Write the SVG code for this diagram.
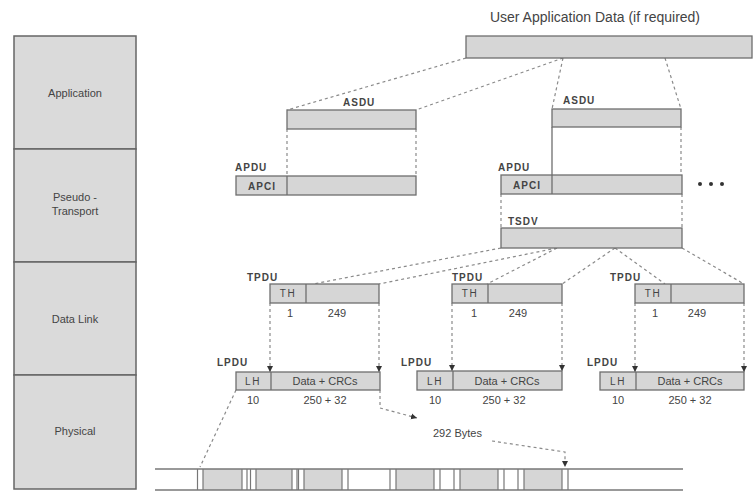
<svg xmlns="http://www.w3.org/2000/svg" width="753" height="491" viewBox="0 0 753 491">
<defs>
<style>
.box{fill:#d6d6d6;stroke:#6e6e6e;stroke-width:1.3}
.layer{fill:#dadada;stroke:#666;stroke-width:1.5}
.div{stroke:#6e6e6e;stroke-width:1.3}
.dash{fill:none;stroke:#8a8a8a;stroke-width:1.2;stroke-dasharray:3 3}
.solid{fill:none;stroke:#6e6e6e;stroke-width:1.3}
.t{font-family:"Liberation Sans",Arial,sans-serif;fill:#444}
.lay{font-size:11px;text-anchor:middle}
.lbl{font-size:10px;font-weight:bold;letter-spacing:1px}
.cell{font-size:10px;font-weight:bold;letter-spacing:1px;text-anchor:middle}
.lh{font-size:10px;letter-spacing:1.5px;text-anchor:middle}
.num{font-size:11px;text-anchor:middle}
.ln{stroke:#777;stroke-width:1.2}
.seg{fill:#d6d6d6}
</style>
<marker id="ar" markerUnits="userSpaceOnUse" markerWidth="8" markerHeight="8" refX="6" refY="4" orient="auto" viewBox="0 0 8 8">
<path d="M0,1 L6,4 L0,7 Z" fill="#333"/>
</marker>
</defs>
<rect width="753" height="491" fill="#ffffff"/>

<g id="layers">
<rect class="layer" x="14" y="36" width="122" height="113"/>
<rect class="layer" x="14" y="149" width="122" height="113"/>
<rect class="layer" x="14" y="262" width="122" height="113"/>
<rect class="layer" x="14" y="375" width="122" height="114"/>
<text class="t lay" x="75" y="97">Application</text>
<text class="t lay" x="75" y="201">Pseudo -</text>
<text class="t lay" x="75" y="215">Transport</text>
<text class="t lay" x="75" y="323">Data Link</text>
<text class="t lay" x="75" y="435">Physical</text>
</g>

<g id="connectors">
<line class="dash" x1="466" y1="58" x2="287" y2="110"/>
<line class="dash" x1="563" y1="58" x2="416" y2="110"/>
<line class="dash" x1="563" y1="58" x2="552" y2="109"/>
<line class="dash" x1="665" y1="58" x2="681" y2="109"/>
<line class="dash" x1="287" y1="129" x2="287" y2="176"/>
<line class="dash" x1="416" y1="129" x2="416" y2="176"/>
<line class="solid" x1="552" y1="127" x2="552" y2="175"/>
<line class="dash" x1="681" y1="127" x2="681" y2="175"/>
<line class="dash" x1="501" y1="194" x2="501" y2="228"/>
<line class="dash" x1="682" y1="194" x2="682" y2="228"/>
<line class="dash" x1="501" y1="248" x2="313" y2="284"/>
<line class="dash" x1="557" y1="248" x2="379" y2="284"/>
<line class="dash" x1="557" y1="248" x2="487" y2="284"/>
<line class="dash" x1="615" y1="248" x2="562" y2="284"/>
<line class="dash" x1="615" y1="248" x2="665" y2="284"/>
<line class="dash" x1="682" y1="248" x2="744" y2="284"/>
<line class="dash" x1="270" y1="303" x2="270" y2="372" marker-end="url(#ar)"/>
<line class="dash" x1="379" y1="303" x2="379" y2="372" marker-end="url(#ar)"/>
<line class="dash" x1="452" y1="303" x2="452" y2="371" marker-end="url(#ar)"/>
<line class="dash" x1="562" y1="303" x2="562" y2="371" marker-end="url(#ar)"/>
<line class="dash" x1="635" y1="303" x2="635" y2="372" marker-end="url(#ar)"/>
<line class="dash" x1="744" y1="303" x2="744" y2="372" marker-end="url(#ar)"/>
<line class="dash" x1="236" y1="390" x2="200" y2="467"/>
<path class="dash" d="M380,390 L380,408 L417,418" marker-end="url(#ar)"/>
<path class="dash" d="M492,441 L565,452 L565,467" marker-end="url(#ar)"/>
</g>

<g id="uad">
<text class="t" x="595" y="22" font-size="14" text-anchor="middle">User Application Data (if required)</text>
<rect class="box" x="466" y="36" width="286" height="22"/>
</g>

<g id="asdu1">
<text class="t lbl" x="343" y="106">ASDU</text>
<rect class="box" x="287" y="110" width="129" height="19"/>
</g>
<g id="asdu2">
<text class="t lbl" x="563" y="104">ASDU</text>
<rect class="box" x="552" y="109" width="129" height="18"/>
</g>

<g id="apdu1">
<text class="t lbl" x="235" y="171">APDU</text>
<rect class="box" x="236" y="176" width="180" height="19"/>
<line class="div" x1="287" y1="176" x2="287" y2="195"/>
<text class="t cell" x="262" y="190">APCI</text>
</g>
<g id="apdu2">
<text class="t lbl" x="498" y="171">APDU</text>
<rect class="box" x="501" y="175" width="181" height="19"/>
<line class="div" x1="552" y1="175" x2="552" y2="194"/>
<text class="t cell" x="527" y="189">APCI</text>
</g>
<g id="more">
<circle cx="700" cy="184" r="2" fill="#333"/>
<circle cx="711" cy="184" r="2" fill="#333"/>
<circle cx="722" cy="184" r="2" fill="#333"/>
</g>

<g id="tsdv">
<text class="t lbl" x="508" y="225">TSDV</text>
<rect class="box" x="501" y="228" width="181" height="20"/>
</g>

<g id="tpdu1">
<text class="t lbl" x="247" y="281">TPDU</text>
<rect class="box" x="270" y="284" width="109" height="19"/>
<line class="div" x1="306" y1="284" x2="306" y2="303"/>
<text class="t lh" x="288" y="297">TH</text>
<text class="t num" x="290" y="317">1</text>
<text class="t num" x="337" y="317">249</text>
</g>
<g id="tpdu2">
<text class="t lbl" x="452" y="281">TPDU</text>
<rect class="box" x="452" y="284" width="110" height="19"/>
<line class="div" x1="488" y1="284" x2="488" y2="303"/>
<text class="t lh" x="470" y="297">TH</text>
<text class="t num" x="474" y="317">1</text>
<text class="t num" x="518" y="317">249</text>
</g>
<g id="tpdu3">
<text class="t lbl" x="610" y="281">TPDU</text>
<rect class="box" x="635" y="284" width="109" height="19"/>
<line class="div" x1="671" y1="284" x2="671" y2="303"/>
<text class="t lh" x="653" y="297">TH</text>
<text class="t num" x="655" y="317">1</text>
<text class="t num" x="697" y="317">249</text>
</g>

<g id="lpdu1">
<text class="t lbl" x="217" y="366">LPDU</text>
<rect class="box" x="236" y="372" width="144" height="18"/>
<line class="div" x1="271" y1="372" x2="271" y2="390"/>
<text class="t lh" x="253" y="385">LH</text>
<text class="t num" x="325" y="385">Data + CRCs</text>
<text class="t num" x="253" y="404">10</text>
<text class="t num" x="325" y="404">250 + 32</text>
</g>
<g id="lpdu2">
<text class="t lbl" x="401" y="366">LPDU</text>
<rect class="box" x="417" y="371" width="145" height="19"/>
<line class="div" x1="453" y1="371" x2="453" y2="390"/>
<text class="t lh" x="435" y="385">LH</text>
<text class="t num" x="507" y="385">Data + CRCs</text>
<text class="t num" x="435" y="404">10</text>
<text class="t num" x="504" y="404">250 + 32</text>
</g>
<g id="lpdu3">
<text class="t lbl" x="587" y="366">LPDU</text>
<rect class="box" x="600" y="372" width="144" height="18"/>
<line class="div" x1="636" y1="372" x2="636" y2="390"/>
<text class="t lh" x="618" y="385">LH</text>
<text class="t num" x="690" y="385">Data + CRCs</text>
<text class="t num" x="618" y="404">10</text>
<text class="t num" x="690" y="404">250 + 32</text>
</g>

<g id="bytes">
<text class="t" x="433" y="437" font-size="11">292 Bytes</text>
</g>

<g id="physical">
<rect class="seg" x="203" y="469" width="39" height="21"/>
<rect class="seg" x="256" y="469" width="36" height="21"/>
<rect class="seg" x="304" y="469" width="38" height="21"/>
<rect class="seg" x="396" y="469" width="38" height="21"/>
<rect class="seg" x="460" y="469" width="38" height="21"/>
<rect class="seg" x="524" y="469" width="38" height="21"/>
<g class="ln">
<line x1="197.5" y1="469" x2="197.5" y2="490"/><line x1="203" y1="469" x2="203" y2="490"/>
<line x1="242" y1="469" x2="242" y2="490"/><line x1="247" y1="469" x2="247" y2="490"/>
<line x1="250.5" y1="469" x2="250.5" y2="490"/><line x1="256" y1="469" x2="256" y2="490"/>
<line x1="292" y1="469" x2="292" y2="490"/><line x1="297" y1="469" x2="297" y2="490"/>
<line x1="298.5" y1="469" x2="298.5" y2="490"/><line x1="304" y1="469" x2="304" y2="490"/>
<line x1="342" y1="469" x2="342" y2="490"/><line x1="348" y1="469" x2="348" y2="490"/>
<line x1="390" y1="469" x2="390" y2="490"/><line x1="396" y1="469" x2="396" y2="490"/>
<line x1="434" y1="469" x2="434" y2="490"/><line x1="440" y1="469" x2="440" y2="490"/>
<line x1="454" y1="469" x2="454" y2="490"/><line x1="460" y1="469" x2="460" y2="490"/>
<line x1="498" y1="469" x2="498" y2="490"/><line x1="504" y1="469" x2="504" y2="490"/>
<line x1="518" y1="469" x2="518" y2="490"/><line x1="524" y1="469" x2="524" y2="490"/>
<line x1="562" y1="469" x2="562" y2="490"/><line x1="568" y1="469" x2="568" y2="490"/>
</g>
<line x1="155" y1="469" x2="683" y2="469" stroke="#777" stroke-width="1.4"/>
<line x1="155" y1="490" x2="683" y2="490" stroke="#777" stroke-width="1.4"/>
</g>
</svg>
